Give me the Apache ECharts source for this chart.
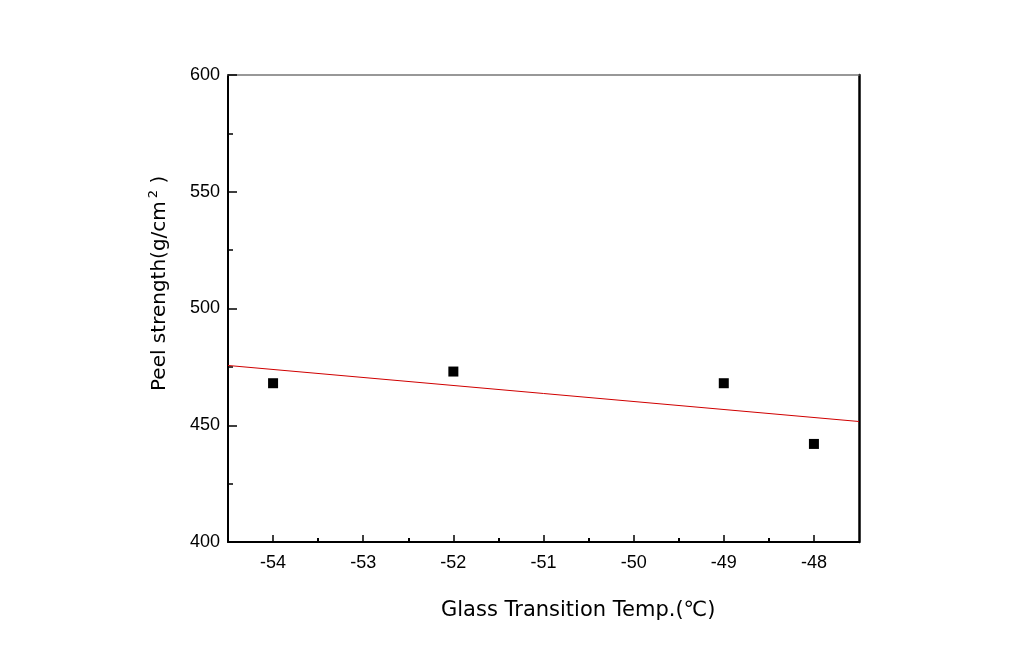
<!DOCTYPE html>
<html><head><meta charset="utf-8">
<script src="https://cdn.jsdelivr.net/npm/echarts@6/dist/echarts.min.js"></script>
<style>html,body{margin:0;padding:0;background:#fff}#c{width:1017px;height:649px}</style>
</head><body><div id="c"></div>
<script>
var glassTemps = [-54, -52, -49, -48];
var peelStrength = [468, 473, 468, 442];
var fitX = [-54.5, -47.5];
var fitY = [475.6, 451.6];
var xTicks = [-54, -53, -52, -51, -50, -49, -48];
var xMinorTicks = [-53.5, -52.5, -51.5, -50.5, -49.5, -48.5];
var yTicks = [400, 450, 500, 550, 600];

var chart = echarts.init(document.getElementById('c'));
var font = '"Liberation Sans", Arial, sans-serif';
var tfont = '"DejaVu Sans", sans-serif';
chart.setOption({
  backgroundColor: '#fff',
  animation: false,
  grid: {left: 228, top: 75, right: 158, bottom: 107},
  xAxis: [{
    type: 'value', min: -54.5, max: -47.5,
    axisLine: {show: true, lineStyle: {color: '#000', width: 2}},
    axisTick: {show: true, inside: true, length: 7, lineStyle: {color: '#000', width: 1.5},
      customValues: xTicks},
    axisLabel: {color: '#000', fontSize: 18, fontFamily: font, margin: 12, customValues: xTicks},
    splitLine: {show: false}
  }, {
    type: 'value', position: 'top', min: -54.5, max: -47.5,
    axisLine: {show: true, lineStyle: {color: '#777', width: 1.5}},
    axisTick: {show: false}, axisLabel: {show: false}, splitLine: {show: false}
  }, {
    type: 'value', position: 'bottom', min: -54.5, max: -47.5,
    axisLine: {show: false},
    axisTick: {show: true, inside: true, length: 4, lineStyle: {color: '#000', width: 2},
      customValues: xMinorTicks},
    axisLabel: {show: false}, splitLine: {show: false}
  }],
  yAxis: [{
    type: 'value', min: 400, max: 600, interval: 50,
    axisLine: {show: true, lineStyle: {color: '#000', width: 2}},
    axisTick: {show: true, inside: true, length: 9, lineStyle: {color: '#000', width: 1.5}},
    minorTick: {show: true, splitNumber: 2, length: 5, lineStyle: {color: '#000', width: 1.5}},
    axisLabel: {color: '#000', fontSize: 18, fontFamily: font, margin: 8,
      formatter: function (v) { return yTicks.indexOf(v) >= 0 ? String(v) : ''; }},
    splitLine: {show: false}
  }, {
    type: 'value', position: 'right', min: 400, max: 600,
    axisLine: {show: true, lineStyle: {color: '#000', width: 2.5}},
    axisTick: {show: false}, axisLabel: {show: false}, splitLine: {show: false}
  }],
  series: [{
    type: 'line', data: fitX.map(function (x, i) { return [x, fitY[i]]; }),
    showSymbol: false, symbol: 'none', lineStyle: {color: '#d00000', width: 1}, z: 2
  }, {
    type: 'scatter', data: glassTemps.map(function (x, i) { return [x, peelStrength[i]]; }),
    symbol: 'rect', symbolSize: 10, itemStyle: {color: '#000', opacity: 1}, z: 3
  }],
  graphic: [{
    type: 'text', left: 441, top: 600,
    style: {text: 'Glass Transition Temp.(\u2103)', fill: '#000', font: '21px ' + tfont}
  }, {
    type: 'text', x: 147, y: 391, rotation: Math.PI / 2,
    style: {
      text: '{a|Peel strength(g/cm}{s|2}{a| )}',
      fill: '#000',
      rich: {
        a: {fontSize: 20, fontFamily: tfont, fill: '#000'},
        s: {fontSize: 13, fontFamily: tfont, fill: '#000', padding: [0, 0, 13, 3]}
      }
    }
  }]
});
</script></body></html>
